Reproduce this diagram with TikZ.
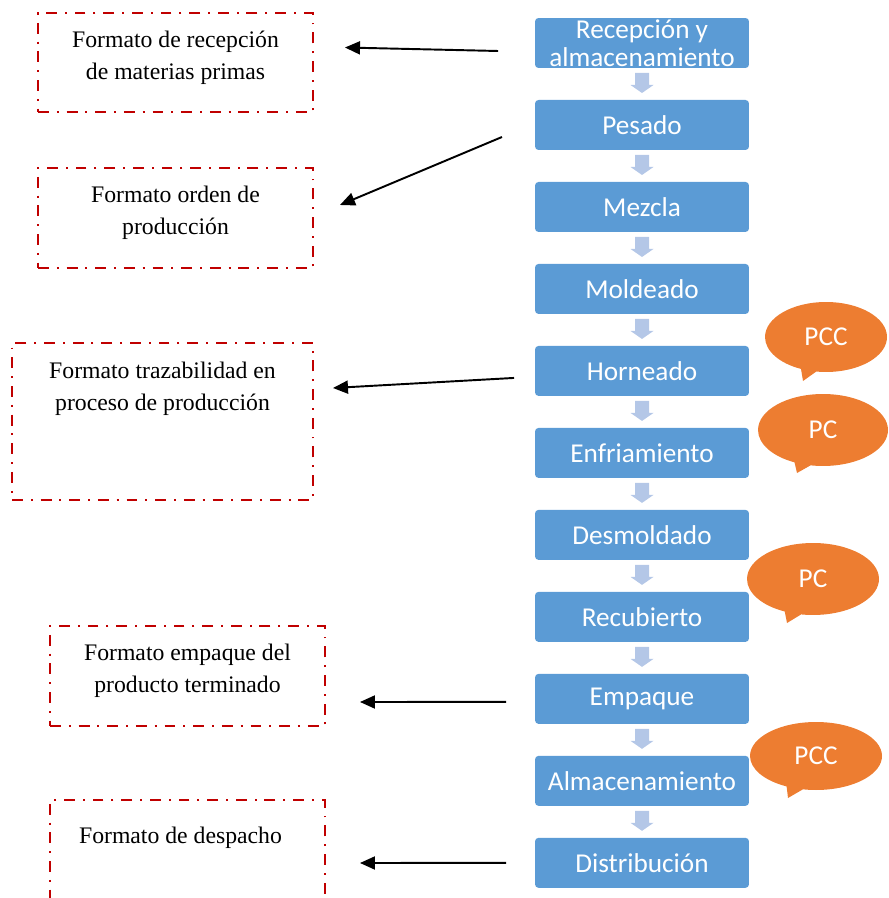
\documentclass[tikz,border=0pt]{standalone}
\usepackage{fontspec}
\setmainfont{Liberation Serif}
\newfontfamily\calibri{Carlito}
\usetikzlibrary{positioning,calc,shapes.callouts,arrows.meta}
\definecolor{pasoazul}{RGB}{91,155,213}
\definecolor{flechaazul}{RGB}{180,199,231}
\definecolor{naranja}{RGB}{237,125,49}
\definecolor{rojo}{RGB}{192,0,0}

\begin{document}
\begin{tikzpicture}[x=0.02cm,y=-0.02cm,
  paso/.style={fill=pasoazul,rounded corners=2pt,minimum width=4.28cm,
    minimum height=1cm,inner sep=0pt,outer sep=0pt,text=white,align=center,
    font=\calibri\fontsize{15.5}{16}\selectfont},
  formato/.style={draw=rojo,line width=1.3pt,outer sep=0pt,
    dash pattern=on 6.2pt off 4.5pt on 1.1pt off 4.5pt},
  rotulo/.style={font=\fontsize{13.5}{18}\selectfont,align=center,inner sep=0pt},
  globo/.style={ellipse callout,fill=naranja,text=white,inner sep=0pt,
    font=\calibri\fontsize{15.5}{16}\selectfont},
  flecha/.style={line width=1.1pt,-{Triangle[length=0.3cm,width=0.26cm]}},
  node distance=0.64cm]
  \useasboundingbox (0,0) rectangle (888,898);

  % pasos del proceso
  \node[paso] (recep) at (642,43) {Recepción y\\almacenamiento};
  \node[paso,below=of recep] (pesado) {Pesado};
  \node[paso,below=of pesado] (mezcla) {Mezcla};
  \node[paso,below=of mezcla] (moldeado) {Moldeado};
  \node[paso,below=of moldeado] (horneado) {Horneado};
  \node[paso,below=of horneado] (enfriam) {Enfriamiento};
  \node[paso,below=of enfriam] (desmold) {Desmoldado};
  \node[paso,below=of desmold] (recub) {Recubierto};
  \node[paso,below=of recub] (empaque) {Empaque};
  \node[paso,below=of empaque] (almacen) {Almacenamiento};
  \node[paso,below=of almacen] (distrib) {Distribución};

  \foreach \a/\b in {recep/pesado,pesado/mezcla,mezcla/moldeado,
      moldeado/horneado,horneado/enfriam,enfriam/desmold,desmold/recub,
      recub/empaque,empaque/almacen,almacen/distrib}
    \fill[flechaazul] ($(\a.south)!0.5!(\b.north)$) ++(-7,-11) -- ++(14,0)
      -- ++(0,12) -- ++(4.5,0) -- ++(-11.5,8) -- ++(-11.5,-8) -- ++(4.5,0) -- cycle;

  % formatos
  \node[formato,minimum width=5.5cm,minimum height=1.98cm] (fmt1) at (175.5,62.5) {};
  \node[formato,minimum width=5.5cm,minimum height=2cm] (fmt2) at (175.5,218) {};
  \node[formato,minimum width=6.02cm,minimum height=3.14cm] (fmt3) at (162.5,421.5) {};
  \node[formato,minimum width=5.5cm,minimum height=2cm] (fmt4) at (187.5,676) {};
  \node[formato,minimum width=5.5cm,minimum height=2.1cm] (fmt5) at (187.5,852.5) {};

  \node[rotulo] at ([shift={(0,44.5)}]fmt1.north) {Formato de recepción\\de materias primas};
  \node[rotulo] at ([shift={(0,44.5)}]fmt2.north) {Formato orden de\\producción};
  \node[rotulo] at ([shift={(0,45.5)}]fmt3.north) {Formato trazabilidad en\\proceso de producción};
  \node[rotulo] at ([shift={(0,45)}]fmt4.north) {Formato empaque del\\producto terminado};
  \node[rotulo] at ([shift={(-7,38)}]fmt5.north) {Formato de despacho};

  \draw[flecha] ([shift={(-37,8)}]recep.west) -- ([shift={(32,-15)}]fmt1.east);
  \draw[flecha] ([shift={(-33,12)}]pesado.west) -- ([shift={(27,-13)}]fmt2.east);
  \draw[flecha] ([shift={(-21,7)}]horneado.west) -- ([shift={(20,-33.5)}]fmt3.east);
  \draw[flecha] ([shift={(-29,3)}]empaque.west) -- ([shift={(35,26)}]fmt4.east);
  \draw[flecha] ([shift={(-29,0)}]distrib.west) -- ([shift={(35,10.5)}]fmt5.east);

  % puntos de control
  \node[globo,minimum width=2.44cm,minimum height=1.4cm,
    callout absolute pointer={(803,381)}] (pcc1) at (826,337) {PCC};
  \node[globo,minimum width=2.6cm,minimum height=1.44cm,
    callout absolute pointer={(797,473)}] (pc1) at (823,430) {PC};
  \node[globo,minimum width=2.64cm,minimum height=1.44cm,
    callout absolute pointer={(787,623)}] (pc2) at (813,579) {PC};
  \node[globo,minimum width=2.64cm,minimum height=1.36cm,
    callout absolute pointer={(788,798)}] (pcc2) at (816,756) {PCC};
\end{tikzpicture}
\end{document}
